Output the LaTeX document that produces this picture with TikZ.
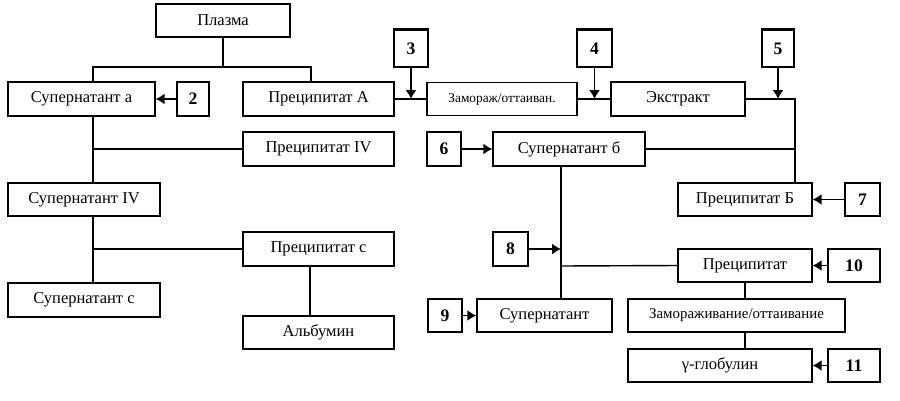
\documentclass[tikz,border=0pt]{standalone}
\usepackage{fontspec}
\setmainfont{Liberation Serif}
\usetikzlibrary{arrows.meta}

\tikzset{
	box/.style={draw, line width=0.8pt, inner sep=0pt, font=\fontsize{9.4}{10}\selectfont},
	numbox/.style={box, font=\fontsize{10}{11}\selectfont\bfseries},
	topbar/.style={line width=2pt},
	arr/.style={line width=0.8pt, -{Latex[length=1.8mm,width=2.2mm]}},
	ln/.style={line width=0.8pt}
}

\begin{document}
\begin{tikzpicture}[x=0.02cm, y=-0.02cm]
			%%%%% START %%%%%
			\useasboundingbox (0,0) rectangle (900,400);
			
			% top row
			\node[box, minimum width=2.68cm, minimum height=0.66cm] (plasma) at (223,20.5) {Плазма};
			\node[box, minimum width=2.94cm, minimum height=0.68cm] (supA) at (81.5,99) {Супернатант а};
			\node[numbox, minimum width=0.64cm, minimum height=0.68cm] (n2) at (193,99) {2};
			\node[box, minimum width=3.02cm, minimum height=0.68cm] (precA) at (318.5,99) {Преципитат А};
			\node[box, minimum width=3.0cm, minimum height=0.66cm, font=\fontsize{7.6}{9}\selectfont] (zam) at (502,99) {Замораж/оттаиван.};
			\node[box, minimum width=2.68cm, minimum height=0.68cm] (extr) at (678,99) {Экстракт};
			
			\node[numbox, minimum width=0.68cm, minimum height=0.74cm] (n3) at (411,48.5) {3};
			\node[numbox, minimum width=0.7cm, minimum height=0.74cm] (n4) at (594.5,48.5) {4};
			\node[numbox, minimum width=0.64cm, minimum height=0.74cm] (n5) at (778,48.5) {5};
			\draw[topbar] (n3.north west) -- (n3.north east);
			\draw[topbar] (n4.north west) -- (n4.north east);
			\draw[topbar] (n5.north west) -- (n5.north east);
			
			% left column
			\node[box, minimum width=3.02cm, minimum height=0.68cm] (precIV) at (318.5,149) {Преципитат IV};
			\node[box, minimum width=3.04cm, minimum height=0.66cm] (supIV) at (84,199.5) {Супернатант IV};
			\node[box, minimum width=3.02cm, minimum height=0.68cm] (precC) at (318.5,249) {Преципитат с};
			\node[box, minimum width=3.04cm, minimum height=0.68cm] (supC) at (84,300) {Супернатант с};
			\node[box, minimum width=3.02cm, minimum height=0.66cm] (alb) at (318.5,332.5) {Альбумин};
			
			% right part
			\node[numbox, minimum width=0.68cm, minimum height=0.68cm] (n6) at (444,149) {6};
			\node[box, minimum width=3.04cm, minimum height=0.68cm] (supB) at (569,149) {Супернатант б};
			\node[box, minimum width=2.68cm, minimum height=0.66cm] (precB) at (745,199.5) {Преципитат Б};
			\node[numbox, minimum width=0.7cm, minimum height=0.66cm] (n7) at (862.5,199.5) {7};
			\node[numbox, minimum width=0.7cm, minimum height=0.68cm] (n8) at (510.5,249) {8};
			\node[box, minimum width=2.68cm, minimum height=0.66cm] (prec) at (745,265.5) {Преципитат};
			\node[numbox, minimum width=1.04cm, minimum height=0.66cm] (n10) at (854,265.5) {10};
			\node[numbox, minimum width=0.68cm, minimum height=0.66cm] (n9) at (445,315.5) {9};
			\node[box, minimum width=2.7cm, minimum height=0.66cm] (sup) at (544.5,315.5) {Супернатант};
			\node[box, minimum width=4.34cm, minimum height=0.66cm, font=\fontsize{8.5}{9}\selectfont] (zamfull) at (736.5,315.5) {Замораживание/оттаивание};
			\node[box, minimum width=3.68cm, minimum height=0.66cm] (gamma) at (720,365.5) {γ-глобулин};
			\node[numbox, minimum width=1.04cm, minimum height=0.66cm] (n11) at (854,365.5) {11};
			
			% branch points
			\coordinate (t1) at (93,67);
			\coordinate (t2) at (311,67);
			\coordinate (r1) at (795,99);
			\coordinate (m1) at (561,266);
			
			% connectors
			\draw[ln] (plasma) -- (plasma |- t1);
			\draw[ln] (supA.north -| t1) |- (t2) -- (precA.north -| t2);
			\draw[arr] (n2) -- (supA);
			
			\draw[ln] (precA) -- (zam);
			\draw[ln] (zam) -- (extr);
			\draw[ln] (extr) -- (r1) -- (r1 |- precB.north);
			\draw[arr] (n3) -- (n3 |- precA);
			\draw[arr] (n4) -- (n4 |- zam);
			\draw[arr] (n5) -- (n5 |- r1);
			
			\draw[ln] (supA.south -| t1) -- (supIV.north -| t1);
			\draw[ln] (t1 |- precIV) -- (precIV);
			\draw[ln] (supIV.south -| t1) -- (supC.north -| t1);
			\draw[ln] (t1 |- precC) -- (precC);
			\draw[ln] (precC.south -| 310,0) -- (alb.north -| 310,0);
			
			\draw[arr] (n6) -- (supB);
			\draw[ln] (supB) -- (supB -| r1);
			\draw[arr] (n7) -- (precB);
			
			\draw[ln] (supB.south -| m1) -- (sup.north -| m1);
			\draw[arr] (n8) -- (n8 -| m1);
			\draw[ln] (m1) -- (prec.west);
			\draw[arr] (n9) -- (sup);
			\draw[arr] (n10) -- (prec);
			\draw[ln] (prec.south) -- (prec.south |- zamfull.north);
			\draw[ln] (prec.south |- zamfull.south) -- (prec.south |- gamma.north);
			\draw[arr] (n11) -- (gamma);
			%%%%% END %%%%%
\end{tikzpicture}
\end{document}
